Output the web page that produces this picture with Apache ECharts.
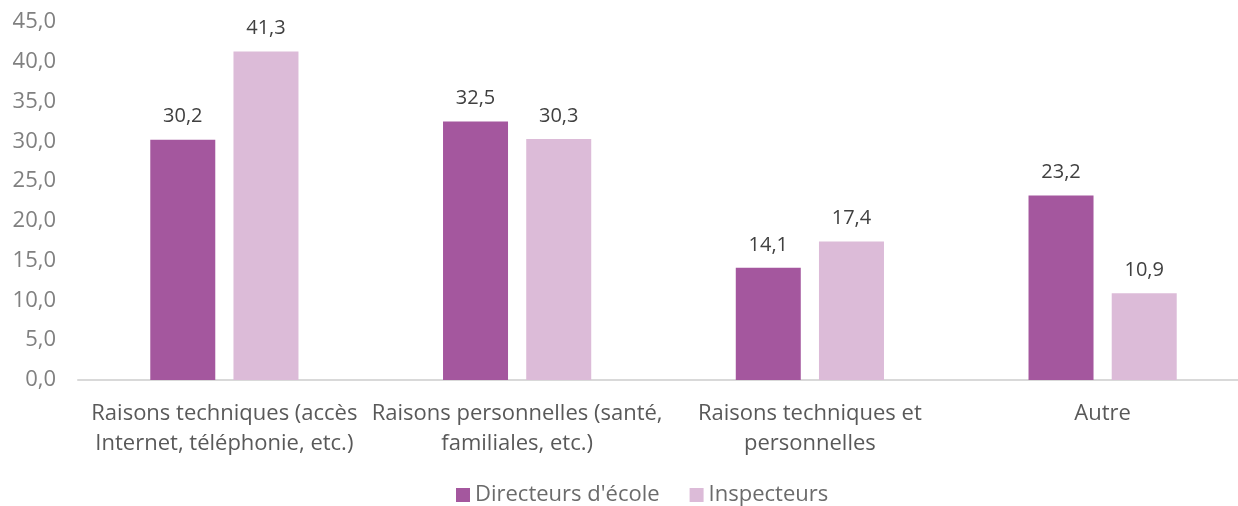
<!DOCTYPE html>
<html>
<head>
<meta charset="utf-8">
<script src="https://cdn.jsdelivr.net/npm/echarts@6/dist/echarts.min.js"></script>
<style>html,body{margin:0;padding:0;background:#fff;overflow:hidden}#c{width:1250px;height:506px}</style>
</head>
<body>
<div id="c"></div>
<script>
const categories = ["Raisons techniques (accès\nInternet, téléphonie, etc.)", "Raisons personnelles (santé,\nfamiliales, etc.)", "Raisons techniques et\npersonnelles", "Autre"];
const seriesNames = ["Directeurs d'école", "Inspecteurs"];
const directeurs = [30.2, 32.5, 14.1, 23.2];
const inspecteurs = [41.3, 30.3, 17.4, 10.9];
const colors = ["#A4579E", "#DCBBD8"];
const font = "'Open Sans', sans-serif";
const fmt = v => v.toFixed(1).replace('.', ',');

const chart = echarts.init(document.getElementById('c'));
chart.setOption({
  animation: false,
  textStyle: { fontFamily: font },
  grid: { left: 78, top: 22, right: 1, bottom: 126 },
  legend: {
    data: seriesNames, bottom: -5, left: 451, itemWidth: 14, itemHeight: 14, itemGap: 30,
    icon: 'rect', textStyle: { fontSize: 22, color: '#6b6b6b', fontFamily: font }
  },
  xAxis: {
    type: 'category', data: categories,
    axisLine: { lineStyle: { color: '#d9d9d9', width: 2 } },
    axisTick: { show: false },
    axisLabel: { fontSize: 22, color: '#595959', lineHeight: 30, margin: 19, interval: 0, fontFamily: font }
  },
  yAxis: {
    type: 'value', min: 0, max: 45, interval: 5,
    splitLine: { show: false }, axisLine: { show: false }, axisTick: { show: false },
    axisLabel: { fontSize: 22, color: '#808080', margin: 22, formatter: fmt, fontFamily: font }
  },
  series: [
    { name: seriesNames[0], type: 'bar', data: directeurs, barWidth: 65, barGap: '28%',
      itemStyle: { color: colors[0] },
      label: { show: true, position: 'top', distance: 13, fontSize: 20, color: '#404040', formatter: p => fmt(p.value), fontFamily: font } },
    { name: seriesNames[1], type: 'bar', data: inspecteurs, barWidth: 65,
      itemStyle: { color: colors[1] },
      label: { show: true, position: 'top', distance: 13, fontSize: 20, color: '#404040', formatter: p => fmt(p.value), fontFamily: font } }
  ]
});
</script>
</body>
</html>
